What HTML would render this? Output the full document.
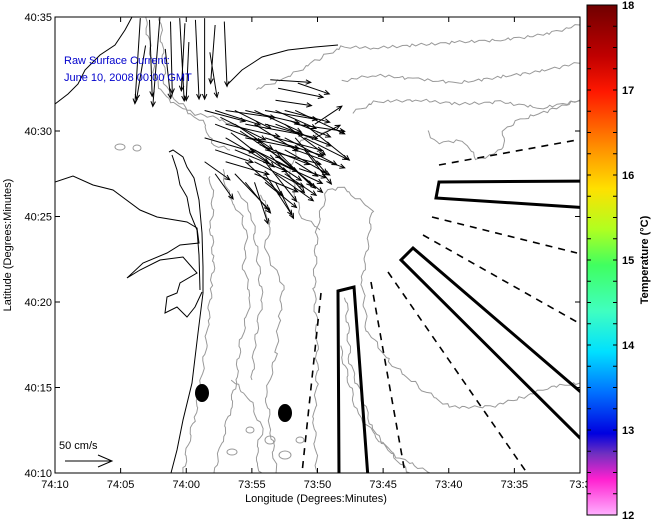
<!DOCTYPE html>
<html><head><meta charset="utf-8"><style>
html,body{margin:0;padding:0;background:#fff;}
svg{display:block;font-family:"Liberation Sans",sans-serif;}
</style></head><body>
<svg id="chart" width="651" height="519" viewBox="0 0 651 519" xmlns="http://www.w3.org/2000/svg">
<defs>
<linearGradient id="cbar" x1="0" y1="0" x2="0" y2="1">
<stop offset="0" stop-color="#700000"/>
<stop offset="0.10" stop-color="#c00000"/>
<stop offset="0.17" stop-color="#ff1800"/>
<stop offset="0.28" stop-color="#ff9000"/>
<stop offset="0.36" stop-color="#ffe000"/>
<stop offset="0.44" stop-color="#b0ff20"/>
<stop offset="0.51" stop-color="#40ff60"/>
<stop offset="0.60" stop-color="#40ffc0"/>
<stop offset="0.68" stop-color="#00e0ff"/>
<stop offset="0.76" stop-color="#0070ff"/>
<stop offset="0.84" stop-color="#0000e0"/>
<stop offset="0.88" stop-color="#7030c0"/>
<stop offset="0.93" stop-color="#ff20d0"/>
<stop offset="1" stop-color="#ffb0ff"/>
</linearGradient>
<clipPath id="plotclip"><rect x="55" y="17" width="525" height="456"/></clipPath>
</defs>
<text x="318" y="34" text-anchor="middle" font-size="12.5" font-weight="bold" fill="#0000cc">RU COOL  NOAA–15  Sea Surface Temperature:  June 09, 2008 2026 GMT</text>
<rect x="55" y="17" width="525" height="456" fill="#fff"/>
<g id="map" clip-path="url(#plotclip)">
<g id="contours" fill="none" stroke="#999" stroke-width="1">
<polyline class="w" points="210,175 213,200 211,230 214,260 211,290 208,320 206,345 200,390 194,420 188,445 183,473"/>
<polyline class="w" points="222,170 230,200 242,215 247,240 243,265 251,295 246,320 240,345 236,380 230,410 222,440 214,473"/>
<polyline class="w" points="262,195 270,225 265,250 283,285 279,320 276,355 266,395 271,430 276,473"/>
<polyline class="w" points="317,473 314,420 317,380 317,330 314,290 317,227 327,190 343,188 372,210 370,230 362,280 367,330 390,363 423,390 450,407 490,407 523,397 550,387 580,383"/>
<polyline class="w" points="340,347 357,413 390,453 430,473"/>
<polyline class="w" points="346,297 350,363 373,430 400,463 410,473"/>
<polyline class="w" points="427,130 437,143 463,140 477,160 503,150 503,130 520,120 580,100"/>
<polyline class="w" points="145,17 155,77 165,97 185,110 205,124 212,144 230,150"/>
<polyline class="w" points="160,17 165,84 175,100 195,114 212,117 235,125"/>
<polyline class="w" points="255,90 288,77 322,57 342,47 375,48 417,45 460,42 500,40 542,35 580,25"/>
<polyline class="w" points="342,81 375,75 417,79 458,83 500,77 542,71 582,62"/>
<polyline class="w" points="354,112 375,102 417,100 460,104 500,102 542,108 582,100"/>
<polyline class="w" points="330,130 300,140 290,170 300,215 320,230"/>
<polyline class="w" points="232,380 250,400 262,430 255,460 262,473"/>
<polyline class="w" points="238,190 252,215 258,260 262,300 255,340 252,380"/>
<ellipse cx="120" cy="147" rx="5" ry="3"/><ellipse cx="137" cy="148" rx="4" ry="3"/><ellipse cx="270" cy="440" rx="5" ry="4"/><ellipse cx="250" cy="430" rx="4" ry="3"/><ellipse cx="285" cy="455" rx="6" ry="4"/><ellipse cx="300" cy="440" rx="4" ry="3"/><ellipse cx="232" cy="452" rx="5" ry="3"/>
</g>
<g fill="none" stroke="#000" stroke-width="1">
<polyline points="169,152 173,150 183,157 187,167 194,178 199,200 202,233 203,267 203,293 198,333 192,383 183,420 177,450 171,473"/>
<polyline points="172,155 177,170 180,185 187,197 190,213 197,230 199,255 200,290"/>
<polyline points="55,182 73,176 93,185 113,190 140,210 157,217 187,222 197,228 199,243 180,245 167,253 143,263 127,278 140,270 160,260 183,257 197,273 180,283 177,293 167,297 165,313 177,307 187,317 195,307 202,292"/>
<polyline points="55,104 68,94 78,84 85,70 100,55 115,45 125,30 132,17"/>
<polyline points="228,84 242,70 262,57 288,50 315,47 338,45"/>
</g>
<g fill="none" stroke="#000" stroke-width="3">
<polygon points="338,291 354,287 368,478 339,478"/>
<polygon points="439,182 590,181 590,208 436,198"/>
<polygon points="413,248 590,400 590,448 401,260"/>
</g>
<g fill="none" stroke="#000" stroke-width="1.6" stroke-dasharray="7,6">
<line x1="439" y1="165" x2="577" y2="140"/>
<line x1="432" y1="217" x2="577" y2="253"/>
<line x1="423" y1="235" x2="577" y2="322"/>
<line x1="388" y1="272" x2="527" y2="473"/>
<line x1="371" y1="282" x2="405" y2="473"/>
<line x1="321" y1="293" x2="302" y2="473"/>
</g>
<ellipse cx="202" cy="393" rx="7" ry="9" fill="#000"/>
<ellipse cx="285" cy="413" rx="7" ry="9" fill="#000"/>
<g id="arrows" stroke="#000" stroke-width="1" fill="none"></g>
</g>
<rect x="55" y="17" width="525" height="456" fill="none" stroke="#000" stroke-width="1"/>
<g id="axes"></g>
<text x="64" y="64" font-size="11" fill="#0000cc">Raw Surface Current:</text>
<text x="64" y="81" font-size="11" fill="#0000cc">June 10, 2008 00:00 GMT</text>
<text x="59" y="449" font-size="11">50 cm/s</text>
<g stroke="#000" fill="none"><line x1="65" y1="461" x2="112" y2="461"/><polyline points="98,455 112,461 98,467"/></g>
<text x="316" y="502" text-anchor="middle" font-size="11">Longitude (Degrees:Minutes)</text>
<text transform="translate(11,245) rotate(-90)" text-anchor="middle" font-size="11">Latitude (Degrees:Minutes)</text>
<rect x="587" y="5" width="30" height="510" fill="url(#cbar)" stroke="#000"/>
<g id="cbticks"></g>
<text transform="translate(648,260) rotate(-90)" text-anchor="middle" font-size="11" font-weight="bold">Temperature (°C)</text>
</svg>
<script>
const xTickLabels = ["74:10","74:05","74:00","73:55","73:50","73:45","73:40","73:35","73:3"];
const yTickLabels = ["40:10","40:15","40:20","40:25","40:30"];
const cbarLabels = ["12","13","14","15","16","17","18"];
const arrowLon = [6.5,7.2,8.0,8.8,9.5,9.9,10.7,11.4,12.2,12.9,6.9,8.4,10.2,11.8,
 16.4,17.0,16.8,18.5,
 11.4,12.2,13.0,13.7,14.5,15.2,16.0,16.8,17.5,18.3,
 12.2,13.0,13.7,14.5,15.2,16.0,16.8,17.5,18.3,19.0,19.8,
 11.4,13.0,14.5,15.2,16.0,16.8,17.5,18.3,19.0,19.8,
 12.2,13.7,15.2,16.0,16.8,17.5,18.3,19.0,
 11.4,13.0,14.5,15.2,16.0,16.8,17.5,18.3,
 12.2,13.7,15.2,16.0,16.8,17.5,
 14.5,15.2,16.0,16.8,
 12.6,14.1,15.6,17.1,18.6,13.4,14.9,16.4,17.9];
const arrowLat = [26.6,26.5,26.7,26.4,26.6,26.3,26.5,26.6,26.2,26.4,25.0,24.8,25.2,24.6,
 23.0,22.5,21.8,22.8,
 21.2,21.2,21.2,21.2,21.2,21.2,21.2,21.2,21.2,21.2,
 20.4,20.4,20.4,20.4,20.4,20.4,20.4,20.4,20.4,20.4,20.4,
 19.6,19.6,19.6,19.6,19.6,19.6,19.6,19.6,19.6,19.6,
 18.9,18.9,18.9,18.9,18.9,18.9,18.9,18.9,
 18.2,18.2,18.2,18.2,18.2,18.2,18.2,18.2,
 17.5,17.5,17.5,17.5,17.5,17.5,
 17.0,17.0,17.0,17.0,
 20.8,20.0,19.2,18.5,17.8,19.9,19.0,18.6,20.6];
const arrowU = [-6,3,-8,2,5,-4,4,0,-5,3,-10,6,-3,8,
 45,50,40,35,
 45,50,55,40,60,52,58,45,50,55,
 52,60,42,65,48,58,62,45,55,50,30,
 55,48,60,42,65,52,58,35,48,28,
 42,58,52,62,40,50,55,30,
 28,48,42,55,35,52,42,25,
 20,38,48,30,42,35,
 28,15,35,20,
 50,45,55,40,30,48,52,38,45];
const arrowV = [-95,-85,-100,-80,-92,-75,-88,-90,-65,-72,-60,-55,-65,-50,
 -3,-10,-6,-12,
 -12,-16,-8,-20,-14,-24,-10,-20,-13,-26,
 -20,-14,-28,-12,-30,-16,-24,-34,-8,-40,20,
 -16,-28,-12,-34,-20,-14,-30,-40,-24,14,
 -14,-24,-34,-16,-40,-28,-20,-38,
 -20,-14,-38,-28,-44,-24,-34,-16,
 -28,-40,-20,-46,-30,-24,
 -34,-46,-28,-40,
 -25,-30,-22,-35,-10,-38,-26,-42,-18];
const X0=55,X1=580,Y0=473,PXLAT=17.1;
function xScale(lonMin){return X0+lonMin*(X1-X0)/40;}
function yScale(latMin){return Y0-latMin*PXLAT;}
const CMPX=0.9;
const NS="http://www.w3.org/2000/svg";
function mk(tag,attrs,parent){const e=document.createElementNS(NS,tag);for(const k in attrs)e.setAttribute(k,attrs[k]);parent.appendChild(e);return e;}
// add small deterministic wiggle to contour lines
document.querySelectorAll('#contours polyline.w').forEach((pl,k)=>{
 const pts=pl.getAttribute('points').trim().split(/\s+/).map(p=>p.split(',').map(Number));
 const out=[];
 for(let i=0;i<pts.length-1;i++){
  const [ax,ay]=pts[i],[bx,by]=pts[i+1];
  const n=Math.max(2,Math.round(Math.hypot(bx-ax,by-ay)/4));
  for(let j=0;j<n;j++){const t=j/n;const s=Math.sin((i*7+j*3+k*5)*1.7)*1.6;out.push((ax+(bx-ax)*t+s).toFixed(1)+','+(ay+(by-ay)*t+Math.cos((i+j+k)*2.3)*1.4).toFixed(1));}
 }
 out.push(pts[pts.length-1].join(','));
 pl.setAttribute('points',out.join(' '));
});
const ag=document.getElementById('arrows');
for(let i=0;i<arrowLon.length;i++){
 const x=xScale(arrowLon[i]),y=yScale(arrowLat[i]);
 const dx=arrowU[i]*CMPX,dy=-arrowV[i]*CMPX;
 const x2=x+dx,y2=y+dy,L=Math.hypot(dx,dy)||1,ux=dx/L,uy=dy/L,h=5;
 const g=mk('g',{},ag);
 
 
 mk('line',{x1:x,y1:y,x2:x2,y2:y2},g);
 mk('polyline',{points:`${x2-h*ux+h*0.45*uy},${y2-h*uy-h*0.45*ux} ${x2},${y2} ${x2-h*ux-h*0.45*uy},${y2-h*uy+h*0.45*ux}`},g);
}
const ax=document.getElementById('axes');
xTickLabels.forEach((t,i)=>{
 const x=xScale(i*5);
 mk('line',{x1:x,y1:473,x2:x,y2:468,stroke:'#000'},ax);
 mk('line',{x1:x,y1:17,x2:x,y2:22,stroke:'#000'},ax);
 const tx=mk('text',{x:x,y:488,'text-anchor':'middle','font-size':'11'},ax);
 
 
 tx.textContent=t;
});
yTickLabels.forEach((t,i)=>{
 const y=yScale(i*5);
 mk('line',{x1:55,y1:y,x2:60,y2:y,stroke:'#000'},ax);
 mk('line',{x1:580,y1:y,x2:575,y2:y,stroke:'#000'},ax);
 const tx=mk('text',{x:52,y:y+4,'text-anchor':'end','font-size':'11'},ax);
 
 
 tx.textContent=t;
});
const topLab=mk('text',{x:52,y:21,'text-anchor':'end','font-size':'11'},ax);


topLab.textContent="40:35";
const cb=document.getElementById('cbticks');
function cbY(v){return 515-(v-12)*85;}
for(let v=12;v<=18.001;v+=0.25){const y=cbY(v);mk('line',{x1:587,y1:y,x2:591,y2:y,stroke:'#000'},cb);mk('line',{x1:617,y1:y,x2:613,y2:y,stroke:'#000'},cb);}
cbarLabels.forEach(t=>{
 const y=cbY(+t);
 const tx=mk('text',{x:622,y:y+4,'font-size':'11','font-weight':'bold'},cb);
 
 
 tx.textContent=t;
});
</script>
</body></html>
